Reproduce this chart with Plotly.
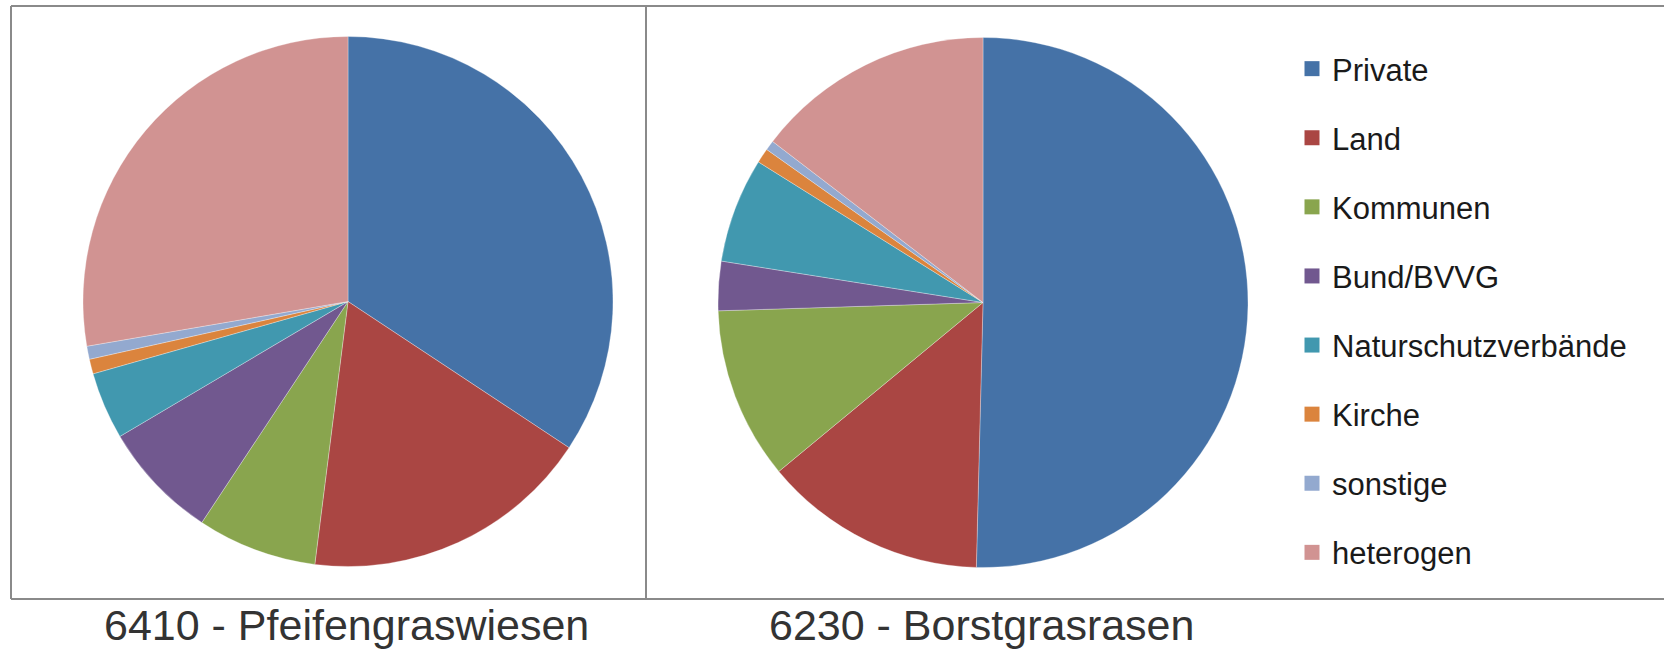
import plotly.graph_objects as go

W, H = 1664, 651

# ---- data ----
categories = ["Private", "Land", "Kommunen", "Bund/BVVG", "Naturschutzverbände",
              "Kirche", "sonstige", "heterogen"]
values_6410 = [34.3, 17.7, 7.3, 7.2, 4.1, 0.9, 0.8, 27.7]
values_6230 = [50.4, 13.6, 10.5, 3.0, 6.4, 0.9, 0.6, 14.6]
titles = ["6410 - Pfeifengraswiesen", "6230 - Borstgrasrasen"]
colors = ["#4572A7", "#AA4643", "#89A54E", "#71588F", "#4198AF",
          "#DB843D", "#93A9CF", "#D19392"]

def px_x(x):
    return x / W

def px_y(y):
    return 1 - y / H

fig = go.Figure()

pie_domains = [
    dict(x=[px_x(83), px_x(613)], y=[px_y(567), px_y(36)]),
    dict(x=[px_x(718), px_x(1248)], y=[px_y(568), px_y(37)]),
]
for vals, dom in zip([values_6410, values_6230], pie_domains):
    fig.add_trace(go.Pie(
        labels=categories, values=vals, sort=False, direction="clockwise",
        rotation=0, textinfo="none", hoverinfo="label+percent",
        marker=dict(colors=colors, line=dict(color="rgba(255,255,255,0.5)", width=0.6)),
        domain=dom, showlegend=False,
    ))

# legend entries (one per category)
for i, (cat, col) in enumerate(zip(categories, colors)):
    fig.add_trace(go.Scatter(
        x=[None], y=[None], mode="markers", name=cat,
        marker=dict(symbol="square", size=15, color=col),
        legendgroup=f"g{i}", showlegend=True,
    ))

# panel frames
frame = dict(color="#8a8a8a", width=2)
shapes = [
    dict(type="line", xref="paper", yref="paper", x0=px_x(11), x1=1.0, y0=px_y(6), y1=px_y(6), line=frame),
    dict(type="line", xref="paper", yref="paper", x0=px_x(11), x1=1.0, y0=px_y(599), y1=px_y(599), line=frame),
    dict(type="line", xref="paper", yref="paper", x0=px_x(11), x1=px_x(11), y0=px_y(6), y1=px_y(599), line=frame),
    dict(type="line", xref="paper", yref="paper", x0=px_x(646), x1=px_x(646), y0=px_y(6), y1=px_y(599), line=frame),
]

title_font = dict(family="Liberation Sans, Arial", size=43, color="#333333")
annotations = [
    dict(text=titles[0], x=px_x(346), y=px_y(651), xref="paper", yref="paper",
         xanchor="center", yanchor="bottom", showarrow=False, font=title_font),
    dict(text=titles[1], x=px_x(982), y=px_y(651), xref="paper", yref="paper",
         xanchor="center", yanchor="bottom", showarrow=False, font=title_font),
]

fig.update_layout(
    width=W, height=H,
    margin=dict(l=0, r=0, t=0, b=0),
    paper_bgcolor="white", plot_bgcolor="white",
    xaxis=dict(visible=False), yaxis=dict(visible=False),
    shapes=shapes, annotations=annotations,
    legend=dict(
        x=px_x(1292), y=px_y(42), xanchor="left", yanchor="top",
        traceorder="grouped", tracegroupgap=25.8,
        font=dict(family="Liberation Sans, Arial", size=31, color="#1a1a1a"),
        bgcolor="rgba(0,0,0,0)", itemclick=False,
    ),
)

fig.write_html("out.html")
